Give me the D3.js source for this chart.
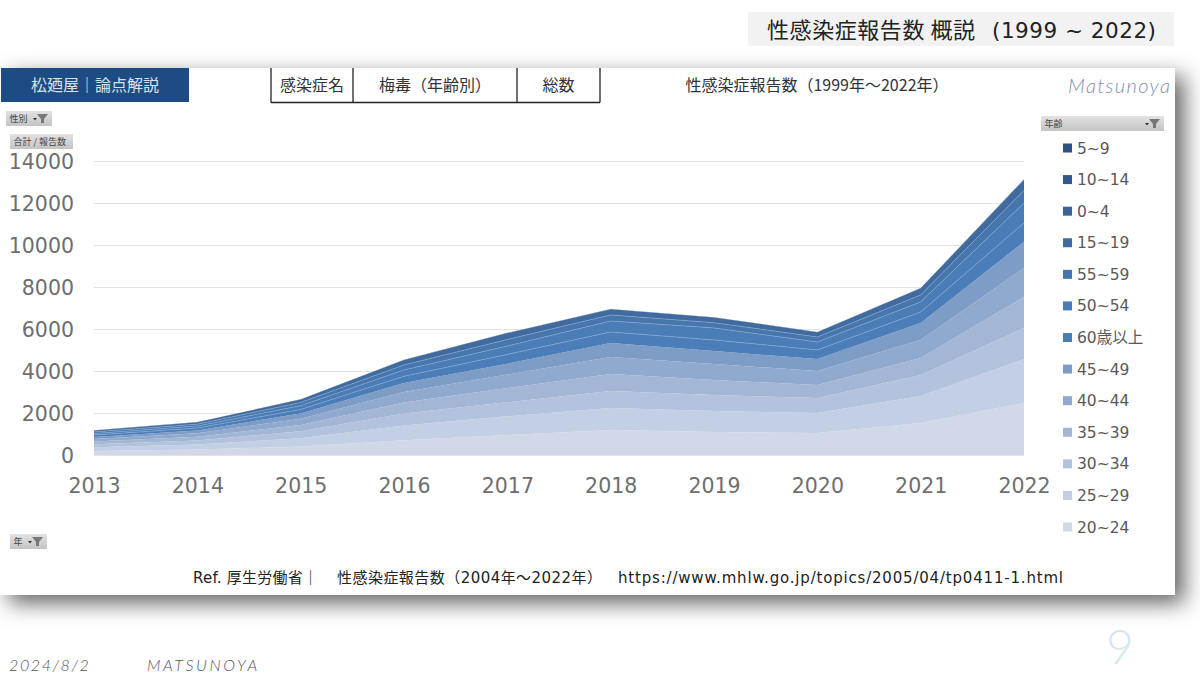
<!DOCTYPE html>
<html>
<head>
<meta charset="utf-8">
<script src="https://cdn.jsdelivr.net/npm/d3@7"></script>
<style>
  html, body { margin: 0; padding: 0; background: #fff; overflow: hidden; }
  text { font-family: "DejaVu Sans", "Noto Sans CJK JP", sans-serif; }
  .cjk { font-family: "Noto Sans CJK JP", sans-serif; }
  .num text { font-family: "DejaVu Sans", sans-serif; }
</style>
</head>
<body>
<div id="chart"></div>
<script>
// 年
const years = [2013, 2014, 2015, 2016, 2017, 2018, 2019, 2020, 2021, 2022];

// 年齢別の報告数 (estimates)
const age20_24 = [190, 260, 400, 700, 950, 1190, 1100, 1050, 1520, 2480];
const age25_29 = [180, 240, 400, 700, 890, 1050, 1000, 950, 1290, 2090];
const age30_34 = [140, 190, 330, 580, 670, 810, 760, 710, 1000, 1480];
const age35_39 = [130, 180, 300, 520, 680, 810, 710, 620, 810, 1470];
const age40_44 = [120, 160, 300, 500, 640, 810, 760, 670, 860, 1380];
const age45_49 = [100, 140, 250, 430, 520, 660, 620, 570, 810, 1250];
const age60up = [90, 110, 190, 320, 440, 530, 530, 430, 520, 900];
const age50_54 = [70, 100, 180, 300, 400, 520, 570, 380, 480, 950];
const age55_59 = [80, 90, 150, 240, 310, 290, 250, 240, 330, 600];
const age15_19 = [70, 90, 140, 230, 305, 270, 250, 230, 320, 505];
const age0_4 = [6, 8, 8, 8, 12, 8, 8, 8, 8, 20];
const age10_14 = [1, 2, 2, 2, 2, 2, 2, 2, 2, 4];
const age5_9 = [0, 0, 0, 0, 1, 0, 0, 0, 0, 1];

// 積み上げ順 (下から)
const ageGroups = ["20~24", "25~29", "30~34", "35~39", "40~44", "45~49", "60歳以上", "50~54", "55~59", "15~19", "0~4", "10~14", "5~9"];
const ageValues = [age20_24, age25_29, age30_34, age35_39, age40_44, age45_49, age60up, age50_54, age55_59, age15_19, age0_4, age10_14, age5_9];
const ageColors = ["#d1d9e8", "#c3cfe4", "#b3c2dd", "#a3b6d6", "#90a9cf", "#7d9cc6", "#4b7eb8", "#4a7cb6", "#4676ac", "#416a9e", "#3a6296", "#33598b", "#2e4f80"];

const yTicks = [0, 2000, 4000, 6000, 8000, 10000, 12000, 14000];

const width = 1200, height = 675;

const svg = d3.select("#chart").append("svg")
  .attr("width", width)
  .attr("height", height);

const defs = svg.append("defs");

const shadow = defs.append("filter").attr("id", "panelShadow")
  .attr("x", "-5%").attr("y", "-5%").attr("width", "110%").attr("height", "115%");
shadow.append("feDropShadow")
  .attr("dx", 9).attr("dy", 8).attr("stdDeviation", 11)
  .attr("flood-color", "#000").attr("flood-opacity", 0.62);

const btnGrad = defs.append("linearGradient").attr("id", "btnGrad")
  .attr("x1", 0).attr("y1", 0).attr("x2", 0).attr("y2", 1);
btnGrad.append("stop").attr("offset", "0%").attr("stop-color", "#e2e2e2");
btnGrad.append("stop").attr("offset", "100%").attr("stop-color", "#c4c4c4");

// 幅を合わせるテキスト
function fitText(xPos, yPos, str, size, len, color) {
  return svg.append("text")
    .attr("x", xPos).attr("y", yPos)
    .attr("font-size", size).attr("fill", color)
    .attr("textLength", len).attr("lengthAdjust", "spacing")
    .text(str);
}

// スライドのタイトル
svg.append("rect").attr("x", 748).attr("y", 12).attr("width", 426).attr("height", 34).attr("fill", "#f2f2f2");
fitText(767, 38, "性感染症報告数 概説", 22, 208, "#222").attr("class", "cjk");
fitText(992, 38, "(1999 ~ 2022)", 21.5, 164, "#222");

// パネル
svg.append("rect").attr("x", 0).attr("y", 68).attr("width", 1175).attr("height", 527)
  .attr("fill", "#fff").attr("filter", "url(#panelShadow)");

// ヘッダー
svg.append("rect").attr("x", 1).attr("y", 68).attr("width", 188).attr("height", 34).attr("fill", "#1d4c84");
svg.append("text").attr("class", "cjk").attr("x", 95).attr("y", 91).attr("text-anchor", "middle")
  .attr("font-size", 16).attr("fill", "#d9e2ee").text("松廼屋｜論点解説");

// 上辺のない表
const cellEdges = [271, 353, 517, 600];
const cellTexts = ["感染症名", "梅毒（年齢別）", "総数"];
cellEdges.forEach(e => {
  svg.append("line").attr("x1", e).attr("x2", e).attr("y1", 68).attr("y2", 102.5)
    .attr("stroke", "#222").attr("stroke-width", 1.3);
});
svg.append("line").attr("x1", 271).attr("x2", 600).attr("y1", 102.5).attr("y2", 102.5)
  .attr("stroke", "#222").attr("stroke-width", 1.5);
cellTexts.forEach((t, i) => {
  svg.append("text").attr("class", "cjk")
    .attr("x", (cellEdges[i] + cellEdges[i + 1]) / 2).attr("y", 91)
    .attr("text-anchor", "middle").attr("font-size", 16).attr("fill", "#333").text(t);
});

svg.append("text").attr("class", "cjk").attr("x", 817).attr("y", 91).attr("text-anchor", "middle")
  .attr("font-size", 16).attr("fill", "#333").text("性感染症報告数（1999年～2022年）");

svg.append("text").attr("x", 1068).attr("y", 93)
  .attr("font-size", 20).attr("font-weight", 300).attr("letter-spacing", 1.4)
  .attr("fill", "#7d90ad").style("font-family", "Lato").style("font-style", "italic")
  .text("Matsunoya");

// フィルターボタン
function filterButton(x, y, w, h, label, hasIcon) {
  const g = svg.append("g").attr("transform", `translate(${x},${y})`);
  g.append("rect").attr("width", w).attr("height", h).attr("fill", "url(#btnGrad)");
  g.append("text").attr("class", "cjk").attr("x", 3.5).attr("y", h / 2 + 3.2)
    .attr("font-size", 9).attr("fill", "#444").text(label);
  if (hasIcon) {
    g.append("path")
      .attr("transform", `translate(${w - 15},3)`)
      .attr("d", "M0,0H11L7,5V9H4V5Z")
      .attr("fill", "#777");
    g.append("path")
      .attr("transform", `translate(${w - 19},7)`)
      .attr("d", "M0,0H4L2,2.5Z")
      .attr("fill", "#333");
  }
}
filterButton(6, 111, 46, 15, "性別", true);
filterButton(10, 134, 63, 15, "合計 / 報告数", false);
filterButton(1041, 116, 123, 15, "年齢", true);
filterButton(10, 534, 37, 15, "年", true);

// スケール
const x = d3.scalePoint().domain(years).range([94, 1024]);
const y = d3.scaleLinear().domain([0, 14000]).range([455, 161]);

// グリッド + y軸
const yAxis = svg.append("g").attr("class", "num")
  .attr("transform", "translate(94,0)")
  .call(d3.axisLeft(y).tickValues(yTicks).tickFormat(d3.format("d")).tickSize(-930).tickPadding(20));
yAxis.select(".domain").remove();
yAxis.selectAll("line").attr("stroke", "#e3e3e3");
yAxis.selectAll("text").attr("font-size", 20.5).attr("fill", "#6e6e6e").attr("dy", "0.36em");

// 積み上げ面
const rows = years.map((yr, i) => {
  const row = { year: yr };
  ageGroups.forEach((a, j) => { row[a] = ageValues[j][i]; });
  return row;
});
const series = d3.stack().keys(ageGroups)(rows);

const area = d3.area()
  .x(d => x(d.data.year))
  .y0(d => y(d[0]))
  .y1(d => y(d[1]));

svg.append("g").selectAll("path")
  .data(series)
  .join("path")
  .attr("d", area)
  .attr("fill", (d, i) => ageColors[i]);

// 上の層の薄い境界線
const topLine = d3.line()
  .x(d => x(d.data.year))
  .y(d => y(d[1]));
svg.append("g").selectAll("path")
  .data(series.slice(6, 9))
  .join("path")
  .attr("d", topLine)
  .attr("fill", "none")
  .attr("stroke", "#7fa5d2")
  .attr("stroke-width", 0.7);

// x軸
const xAxis = svg.append("g").attr("class", "num")
  .attr("transform", "translate(0,455)")
  .call(d3.axisBottom(x).tickFormat(d3.format("d")).tickSize(0).tickPadding(23));
xAxis.select(".domain").remove();
xAxis.selectAll("text").attr("font-size", 20.5).attr("fill", "#6e6e6e");

// 凡例 (上から)
const legendOrder = ageGroups.map((a, i) => ({ name: a, color: ageColors[i] })).reverse();
const legendY = d3.scalePoint().domain(legendOrder.map(d => d.name)).range([148, 527]);
const legend = svg.append("g").selectAll("g")
  .data(legendOrder)
  .join("g")
  .attr("transform", d => `translate(1063,${legendY(d.name)})`);
legend.append("rect")
  .attr("y", -4.5).attr("width", 9).attr("height", 9)
  .attr("fill", d => d.color);
legend.append("text")
  .attr("x", 14).attr("y", 5.5)
  .attr("font-size", 15.5).attr("fill", "#595959")
  .text(d => d.name);

// 出典
fitText(193, 583, "Ref. 厚生労働省｜", 15, 125, "#222");
fitText(337, 583, "性感染症報告数（2004年～2022年）", 15, 265, "#222");
fitText(618, 583, "https://www.mhlw.go.jp/topics/2005/04/tp0411-1.html", 15, 445, "#222");

// フッター
svg.append("text").attr("x", 9).attr("y", 671)
  .attr("font-size", 16).attr("font-weight", 300).attr("letter-spacing", 1.6).attr("fill", "#555")
  .style("font-family", "Lato").style("font-style", "italic").text("2024/8/2");
svg.append("text").attr("x", 147).attr("y", 671)
  .attr("font-size", 16).attr("font-weight", 300).attr("letter-spacing", 2.6).attr("fill", "#555")
  .style("font-family", "Lato").style("font-style", "italic").text("MATSUNOYA");
svg.append("text").attr("x", 1106).attr("y", 664)
  .attr("font-size", 48).attr("font-weight", 300).attr("fill", "#d3e7ec")
  .style("font-family", "Lato").text("9");
</script>
</body>
</html>
